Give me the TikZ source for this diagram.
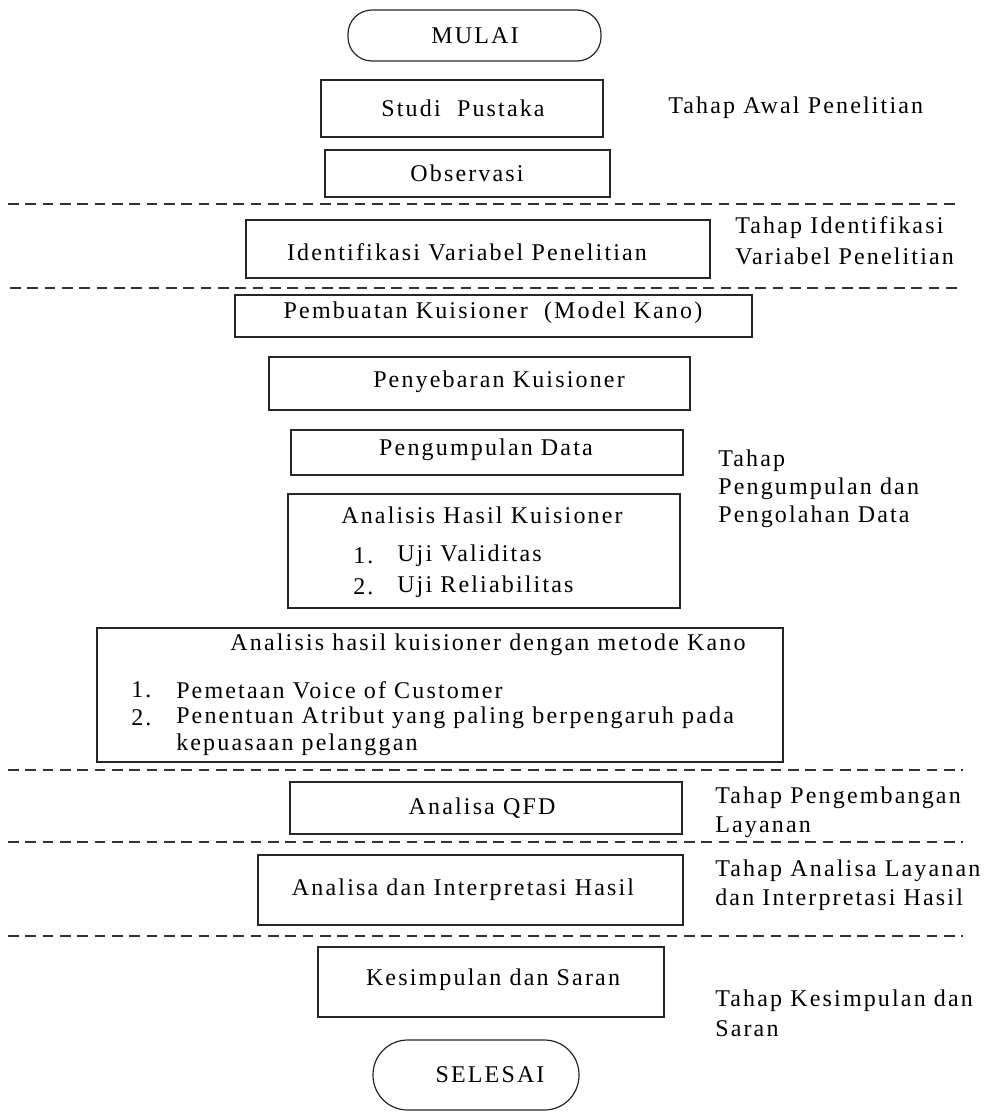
\documentclass[tikz,border=0pt]{standalone}
\usepackage{fontspec}
\setmainfont{Liberation Serif}[LetterSpace=9]
\begin{document}
\begin{tikzpicture}[x=0.75pt,y=-0.75pt,
  box/.style={draw=black!85, line width=1pt, rectangle, inner sep=0pt},
  term/.style={draw=black!85, line width=0.9pt, rectangle, rounded corners=18pt, inner sep=0pt},
  txt/.style={inner sep=0pt, font=\fontsize{18pt}{22pt}\selectfont},
  lbl/.style={txt, anchor=west, align=left},
  sep/.style={line width=1pt, draw=black!80, dash pattern=on 8pt off 5pt}]
\useasboundingbox (0,0) rectangle (998,1113);

% boxes
\node[term, minimum width=253*0.75pt, minimum height=51*0.75pt] (mulai) at (474.5,35.5) {};
\node[box, minimum width=282*0.75pt, minimum height=57*0.75pt] (studi) at (462,108.5) {};
\node[box, minimum width=285*0.75pt, minimum height=47*0.75pt] (obs) at (467.5,173.5) {};
\node[box, minimum width=464*0.75pt, minimum height=58*0.75pt] (ident) at (478,249) {};
\node[box, minimum width=517*0.75pt, minimum height=42*0.75pt] (pemb) at (493.5,316) {};
\node[box, minimum width=421*0.75pt, minimum height=53*0.75pt] (peny) at (479.5,383.5) {};
\node[box, minimum width=392*0.75pt, minimum height=45*0.75pt] (peng) at (487,452.5) {};
\node[box, minimum width=392*0.75pt, minimum height=114*0.75pt] (ahk) at (484,551) {};
\node[box, minimum width=686*0.75pt, minimum height=134*0.75pt] (kano) at (440,695) {};
\node[box, minimum width=392*0.75pt, minimum height=52*0.75pt] (qfd) at (486,808) {};
\node[box, minimum width=425*0.75pt, minimum height=70*0.75pt] (interp) at (470.5,890) {};
\node[box, minimum width=346*0.75pt, minimum height=70*0.75pt] (kesim) at (491,982) {};
\node[term, rounded corners=26pt, minimum width=206*0.75pt, minimum height=70*0.75pt] (selesai) at (476,1075) {};

% texts in boxes
\node[txt] (tmulai) at (475,36) {MULAI};
\node[txt] (tstudi) at (463,108) {Studi\ \ Pustaka};
\node[txt] (tobs) at (467,173) {Observasi};
\node[txt] (tident) at (467,252) {Identifikasi Variabel Penelitian};
\node[txt] (tpemb) at (493,313) {Pembuatan Kuisioner\ \ (Model Kano)};
\node[txt] (tpeny) at (499,382) {Penyebaran Kuisioner};
\node[txt] (tpeng) at (486,450) {Pengumpulan Data};
\node[txt] (tahk) at (482,515) {Analisis Hasil Kuisioner};
\node[lbl] (ahk1n) at (353,556) {1.};
\node[lbl] (ahk1) at (397,556) {Uji Validitas};
\node[lbl] (ahk2n) at (353,587) {2.};
\node[lbl] (ahk2) at (397,587) {Uji Reliabilitas};
\node[txt] (tkano) at (488,645) {Analisis hasil kuisioner dengan metode Kano};
\node[lbl] (k1n) at (131,690) {1.};
\node[lbl] (k1) at (176,690) {Pemetaan Voice of Customer};
\node[lbl] (k2n) at (131,718) {2.};
\node[lbl] (k2) at (176,718) {Penentuan Atribut yang paling berpengaruh pada};
\node[lbl] (k2b) at (176,745) {kepuasaan pelanggan};
\node[txt] (tqfd) at (482,808) {Analisa QFD};
\node[txt] (tinterp) at (463,890) {Analisa dan Interpretasi Hasil};
\node[txt] (tkesim) at (493,980) {Kesimpulan dan Saran};
\node[txt] (tselesai) at (490,1075) {SELESAI};

% stage labels
\node[lbl] (l1) at (668,108) {Tahap Awal Penelitian};
\node[lbl] (l2a) at (735,228) {Tahap Identifikasi};
\node[lbl] (l2b) at (735,256) {Variabel Penelitian};
\node[lbl] (l3a) at (718,461) {Tahap};
\node[lbl] (l3b) at (718,489) {Pengumpulan dan};
\node[lbl] (l3c) at (718,517) {Pengolahan Data};
\node[lbl] (l4a) at (715,798) {Tahap Pengembangan};
\node[lbl] (l4b) at (715,827) {Layanan};
\node[lbl] (l5a) at (715,871) {Tahap Analisa Layanan};
\node[lbl] (l5b) at (715,900) {dan Interpretasi Hasil};
\node[lbl] (l6a) at (715,1001) {Tahap Kesimpulan dan};
\node[lbl] (l6b) at (715,1029) {Saran};

% dashed separators
\coordinate (s1a) at (8,204);   \coordinate (s1b) at (960,204);
\coordinate (s2a) at (10,288);  \coordinate (s2b) at (960,288);
\coordinate (s3a) at (8,770);   \coordinate (s3b) at (963,770);
\coordinate (s4a) at (8,842);   \coordinate (s4b) at (963,842);
\coordinate (s5a) at (8,936);   \coordinate (s5b) at (963,936);
\draw[sep] (s1a) -- (s1b);
\draw[sep] (s2a) -- (s2b);
\draw[sep] (s3a) -- (s3b);
\draw[sep] (s4a) -- (s4b);
\draw[sep] (s5a) -- (s5b);
\end{tikzpicture}
\end{document}
